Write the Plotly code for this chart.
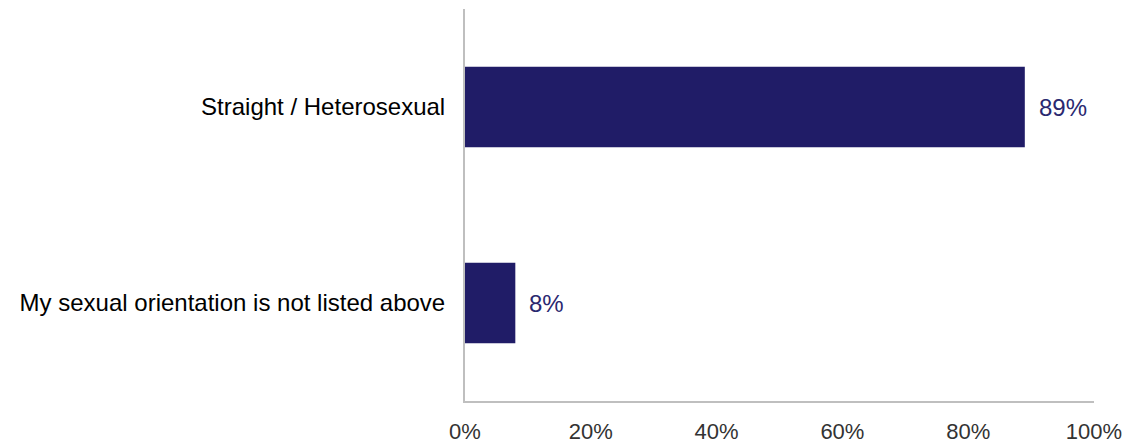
import plotly.graph_objects as go

categories = ["Straight / Heterosexual", "My sexual orientation is not listed above"]
values = [89, 8]
labels = ["89%", "8%"]
tick_vals = [0, 20, 40, 60, 80, 100]
tick_text = ["0%", "20%", "40%", "60%", "80%", "100%"]

bar_color = "#201C67"
font_family = "Liberation Sans, Arial, sans-serif"

fig = go.Figure()
fig.add_trace(go.Bar(
    y=categories, x=values, orientation="h",
    marker=dict(color=bar_color, line=dict(width=0)),
    hoverinfo="skip",
))

for c, v, t in zip(categories, values, labels):
    fig.add_annotation(x=v, y=c, text=t, showarrow=False, xanchor="left",
                       xshift=12, font=dict(family=font_family, size=24, color="#2A2870"))

fig.update_layout(
    width=1126, height=444,
    margin=dict(l=465, r=32, t=9, b=43),
    paper_bgcolor="white", plot_bgcolor="white",
    bargap=0.59,
    showlegend=False,
    font=dict(family=font_family, size=24, color="#000000"),
)
fig.update_xaxes(
    range=[0, 100], tickvals=tick_vals, ticktext=tick_text,
    showgrid=False, zeroline=False, automargin=False,
    showline=True, linecolor="#BFBFBF", linewidth=2,
    ticks="", ticklabelstandoff=10,
    tickfont=dict(family=font_family, size=22, color="#333333"),
)
fig.update_yaxes(
    autorange="reversed", automargin=False,
    showgrid=False, zeroline=False,
    showline=True, linecolor="#BFBFBF", linewidth=2,
    ticks="", ticklabelstandoff=13,
    tickfont=dict(family=font_family, size=24, color="#000000"),
)

fig.write_html("out.html")
